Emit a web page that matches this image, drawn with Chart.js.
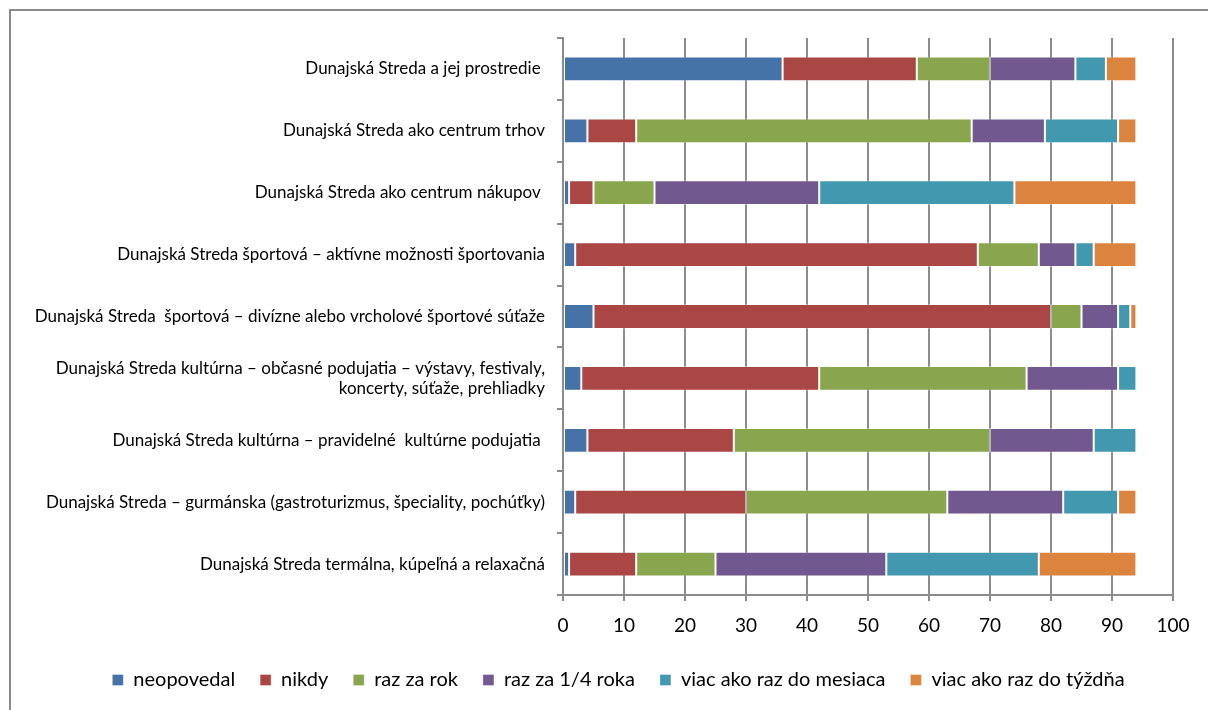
<!DOCTYPE html>
<html>
<head>
<meta charset="utf-8">
<script src="https://cdn.jsdelivr.net/npm/chart.js@4/dist/chart.umd.min.js"></script>
<style>
  body { margin: 0; overflow: hidden; background: #fff; }
  #frame { position: absolute; left: 9px; top: 9px; width: 1400px; height: 900px; border: 2px solid #8a8a8a; }
  #wrap { position: absolute; left: 0; top: 0; width: 1208px; height: 710px; }
</style>
</head>
<body>
<div id="frame"></div>
<div id="wrap"><canvas id="myChart" width="1208" height="710"></canvas></div>
<script>
// categories, top to bottom
const places = [
    'Dunajská Streda a jej prostredie ',
    'Dunajská Streda ako centrum trhov',
    'Dunajská Streda ako centrum nákupov ',
    'Dunajská Streda športová – aktívne možnosti športovania',
    'Dunajská Streda  športová – divízne alebo vrcholové športové súťaže',
    ['Dunajská Streda kultúrna – občasné podujatia – výstavy, festivaly,', 'koncerty, súťaže, prehliadky'],
    'Dunajská Streda kultúrna – pravidelné  kultúrne podujatia ',
    'Dunajská Streda – gurmánska (gastroturizmus, špeciality, pochúťky)',
    'Dunajská Streda termálna, kúpeľná a relaxačná'
];

const neopovedal   = [36, 4, 1, 2, 5, 3, 4, 2, 1];
const nikdy        = [22, 8, 4, 66, 75, 39, 24, 28, 11];
const razZaRok     = [12, 55, 10, 10, 5, 34, 42, 33, 13];
const razZaStvrt   = [14, 12, 27, 6, 6, 15, 17, 19, 28];
const viacMesiac   = [5, 12, 32, 3, 2, 3, 7, 9, 25];
const viacTyzden   = [5, 3, 20, 7, 1, 0, 0, 3, 16];

const xTicks = [0, 10, 20, 30, 40, 50, 60, 70, 80, 90, 100];

const fontName = 'Lato, "Open Sans", sans-serif';
const gridGray = '#8c8c8c';

function ds(label, data, color) {
    return {
        label: label,
        data: data,
        backgroundColor: color,
        borderColor: 'rgba(255,255,255,0.35)',
        borderWidth: 1,
        borderSkipped: false,
        barPercentage: 0.8,
        categoryPercentage: 0.5
    };
}

// legend in the picture sits a bit right of centre
const legendShift = {
    id: 'legendShift',
    afterLayout: function(chart) {
        chart.legend.left += 64;
    }
};

const ctx = document.getElementById('myChart').getContext('2d');
const myChart = new Chart(ctx, {
    type: 'bar',
    data: {
        labels: places,
        datasets: [
            ds('neopovedal', neopovedal, '#4572A7'),
            ds('nikdy', nikdy, '#AA4643'),
            ds('raz za rok', razZaRok, '#89A54E'),
            ds('raz za 1/4 roka', razZaStvrt, '#71588F'),
            ds('viac ako raz do mesiaca', viacMesiac, '#4198AF'),
            ds('viac ako raz do týždňa', viacTyzden, '#DB843D')
        ]
    },
    options: {
        indexAxis: 'y',
        responsive: false,
        animation: false,
        layout: {
            padding: { top: 38, right: 35, left: 0, bottom: 10 }
        },
        plugins: {
            tooltip: { enabled: false },
            legend: {
                position: 'bottom',
                labels: {
                    color: '#000',
                    font: { family: fontName, size: 20 },
                    boxWidth: 11,
                    boxHeight: 11,
                    padding: 25
                }
            }
        },
        scales: {
            x: {
                stacked: true,
                min: 0,
                max: 100,
                afterBuildTicks: function(scale) {
                    scale.ticks = xTicks.map(v => ({ value: v }));
                },
                afterFit: function(scale) {
                    scale.height = 50;
                },
                grid: {
                    color: gridGray,
                    lineWidth: 2,
                    tickLength: 6,
                    tickColor: gridGray
                },
                border: { color: gridGray, width: 2 },
                ticks: {
                    color: '#000',
                    font: { family: fontName, size: 19 },
                    padding: 13
                }
            },
            y: {
                stacked: true,
                afterFit: function(scale) {
                    scale.width = 563;
                },
                grid: {
                    drawOnChartArea: false,
                    tickLength: 6,
                    tickColor: gridGray,
                    lineWidth: 2
                },
                border: { color: gridGray, width: 2 },
                ticks: {
                    color: '#000',
                    font: { family: fontName, size: 17 },
                    padding: 12
                }
            }
        }
    },
    plugins: [legendShift]
});
</script>
</body>
</html>
